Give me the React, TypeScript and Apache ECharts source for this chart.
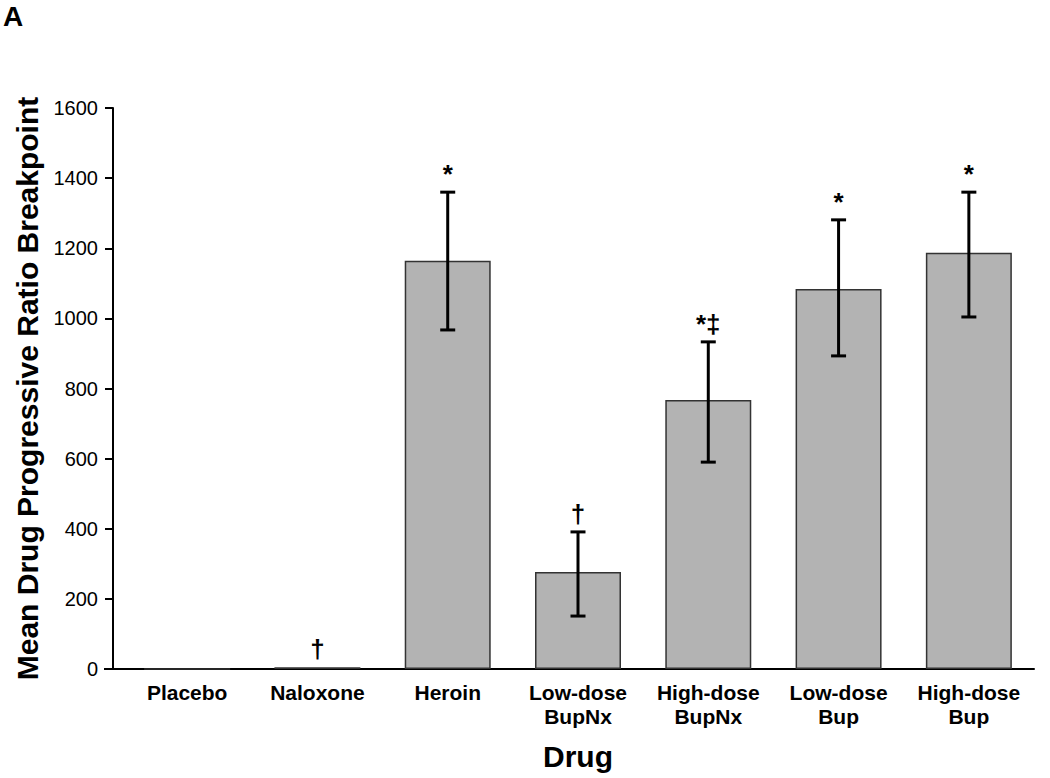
import React, { useEffect, useRef } from "react";
import * as echarts from "echarts";

const categories = [
  "Placebo",
  "Naloxone",
  "Heroin",
  "Low-dose\nBupNx",
  "High-dose\nBupNx",
  "Low-dose\nBup",
  "High-dose\nBup",
];
const meanBreakpoint = [0, 5, 1164, 277, 767, 1084, 1187];
const errorLow = [0, 5, 967, 151, 590, 893, 1004];
const errorHigh = [0, 5, 1360, 391, 933, 1281, 1360];
const hasErrorBar = [false, false, true, true, true, true, true];
const annotations = ["", "\u2020", "*", "\u2020", "*\u2021", "*", "*"];

const FONT = "Liberation Sans, Arial, Helvetica, sans-serif";

export default function App() {
  const ref = useRef<HTMLDivElement>(null);
  useEffect(() => {
    if (!ref.current) return;
    const chart = echarts.init(ref.current, undefined, { renderer: "svg" });
    const errData = categories.map((_, i) => [i, errorLow[i], errorHigh[i]]);
    chart.setOption({
      animation: false,
      backgroundColor: "#ffffff",
      textStyle: { fontFamily: FONT },
      graphic: [
        {
          type: "text",
          left: 3,
          top: 2,
          style: { text: "A", font: `bold 28px ${FONT}`, fill: "#000" },
        },
        {
          type: "line",
          shape: { x1: 104, y1: 669, x2: 123, y2: 669 },
          style: { stroke: "#000", lineWidth: 2 },
          z: 100,
        },
      ],
      grid: { left: 122, top: 108, width: 912, height: 561 },
      xAxis: {
        type: "category",
        data: categories,
        name: "Drug",
        nameLocation: "middle",
        nameGap: 72,
        nameTextStyle: { fontSize: 30, fontWeight: "bold", color: "#000", fontFamily: FONT },
        axisLine: { show: true, lineStyle: { color: "#000", width: 2 } },
        axisTick: { show: false },
        axisLabel: {
          interval: 0,
          margin: 11,
          color: "#000",
          fontSize: 21,
          fontWeight: "bold",
          lineHeight: 24,
          fontFamily: FONT,
        },
      },
      yAxis: {
        type: "value",
        min: 0,
        max: 1600,
        interval: 200,
        offset: 9,
        name: "Mean Drug Progressive Ratio Breakpoint",
        nameLocation: "middle",
        nameGap: 70,
        nameTextStyle: { fontSize: 30, fontWeight: "bold", color: "#000", fontFamily: FONT },
        axisLine: { show: true, lineStyle: { color: "#000", width: 2 } },
        axisTick: { show: true, inside: false, length: 8, lineStyle: { color: "#000", width: 2 } },
        splitLine: { show: false },
        axisLabel: {
          margin: 15,
          color: "#000",
          fontSize: 20,
          fontFamily: FONT,
          formatter: (v: number) => String(v),
        },
      },
      series: [
        {
          type: "bar",
          data: meanBreakpoint,
          barWidth: "66%",
          itemStyle: { color: "#b3b3b3", borderColor: "#333333", borderWidth: 1.5 },
        },
        {
          type: "custom",
          data: errData,
          encode: { x: 0, y: [1, 2] },
          z: 10,
          renderItem: (params: any, api: any) => {
            const i = params.dataIndex;
            const lo = api.value(1);
            const hi = api.value(2);
            const pHi = api.coord([i, hi]);
            const pLo = api.coord([i, lo]);
            const children: any[] = [];
            const cap = 7.5;
            const ls = { stroke: "#000", lineWidth: 3 };
            if (hasErrorBar[i]) {
              children.push(
                { type: "line", shape: { x1: pHi[0], y1: pHi[1], x2: pLo[0], y2: pLo[1] }, style: ls },
                { type: "line", shape: { x1: pHi[0] - cap, y1: pHi[1], x2: pHi[0] + cap, y2: pHi[1] }, style: ls },
                { type: "line", shape: { x1: pLo[0] - cap, y1: pLo[1], x2: pLo[0] + cap, y2: pLo[1] }, style: ls }
              );
            }
            if (annotations[i]) {
              children.push({
                type: "text",
                style: {
                  text: annotations[i],
                  x: pHi[0],
                  y: pHi[1] - 5,
                  align: "center",
                  verticalAlign: "bottom",
                  fontSize: 26,
                  fontWeight: "bold",
                  fontFamily: FONT,
                  fill: "#000",
                },
              });
            }
            return { type: "group", children };
          },
        },
      ],
    });
    return () => chart.dispose();
  }, []);
  return (
    <div
      ref={ref}
      style={{ position: "absolute", left: 0, top: 0, width: 1050, height: 778, background: "#fff" }}
    />
  );
}
